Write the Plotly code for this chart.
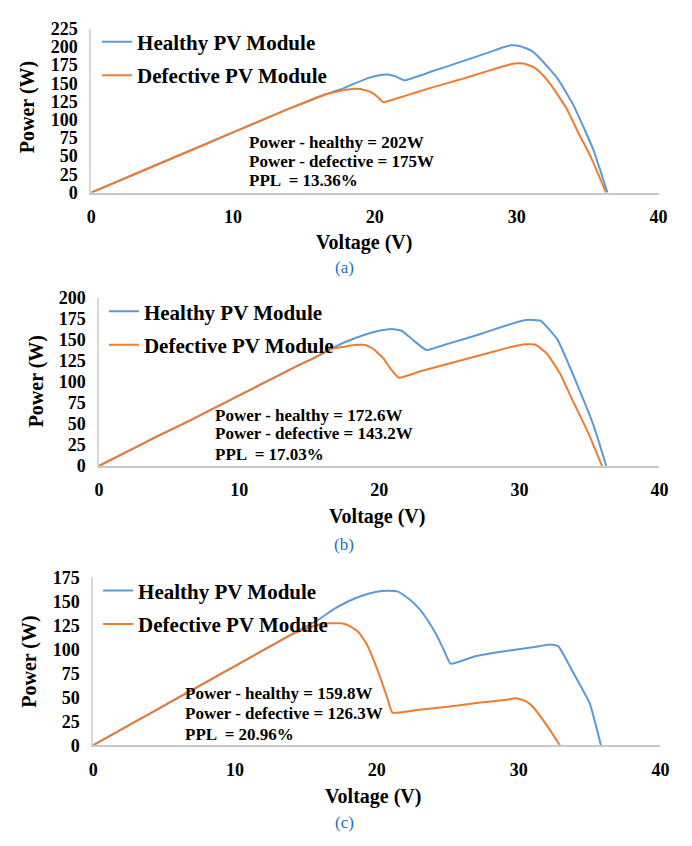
import plotly.graph_objects as go

# ---------------- data ----------------
# Panel (a)
va_h = [0, 2, 4, 6, 8, 10, 12, 14, 15.5, 16.5, 17.5, 18.5, 19.5, 20.3, 20.9, 21.5, 22.1,
        24, 26, 28, 29, 29.6, 30.2, 31, 31.7, 32.9, 34, 35.4, 36.4]
pa_h = [0, 16.5, 33, 49.5, 66, 82.5, 99, 115.5, 127, 134.5, 141, 149, 157, 161, 162, 159, 154,
        166, 179, 192, 199, 202, 201, 195, 183, 156, 120, 59, 0]
va_d = [0, 2, 4, 6, 8, 10, 12, 14, 15.5, 16.5, 17.4, 18.1, 19.0, 19.7, 20.2, 20.6, 22, 24, 26, 28,
        29.2, 29.8, 30.5, 31.2, 31.7, 32.4, 33.5, 34.4, 35.2, 36.3]
pa_d = [0, 16.5, 33, 49.5, 66, 82.5, 99, 115.5, 127, 134.5, 139, 141.5, 142, 138, 131, 124, 132, 144, 155, 167,
        174, 177, 177, 172, 164, 148, 116, 80, 50, 0]

# Panel (b)
vb_h = [0, 2, 4, 6, 8, 10, 12, 14, 15.5, 16.5, 17.5, 18.9, 20, 20.9, 21.6, 22.4, 23.0, 23.4,
        25, 27, 29, 30, 30.6, 31.5, 32.7, 34.3, 35.3, 36.2]
pb_h = [0, 17, 34, 50, 67, 84, 101, 118, 130, 139, 147, 156, 161, 163, 161, 150, 142, 138,
        146, 156, 167, 172, 174, 173, 151, 90, 48, 0]
vb_d = [0, 2, 4, 6, 8, 10, 12, 14, 15.5, 16.5, 17.5, 18.2, 19.0, 19.6, 20.3, 20.8, 21.4, 23, 25, 27, 29,
        30.4, 31.2, 32, 32.9, 33.8, 34.9, 35.9]
pb_d = [0, 17, 34, 50, 67, 84, 101, 118, 130, 139, 142, 144, 144, 139, 128, 116, 105, 113, 122, 131, 140,
        145, 144, 133, 110, 78, 40, 0]

# Panel (c)
vc_h = [0, 2, 4, 6, 8, 10, 12, 14, 15.9, 17, 18, 19, 20, 20.7, 21.5, 22.3, 23, 23.6, 24.2, 24.7, 25.2,
        27, 29, 31, 32.2, 32.8, 33.8, 35, 35.8]
pc_h = [0, 16.5, 33, 49.5, 66, 82.5, 99, 115.5, 131, 142, 150, 156, 160, 161, 160, 152, 142, 130, 115, 100, 85,
        93, 98, 102, 105, 103, 77, 44, 0]
vc_d = [0, 2, 4, 6, 8, 10, 12, 14, 15.5, 16.4, 17.5, 18.1, 18.7, 19.3, 19.8, 20.3, 20.7, 21.1,
        23, 25, 27, 29, 29.8, 30.5, 31, 32.2, 32.9]
pc_d = [0, 16.5, 33, 49.5, 66, 82.5, 99, 115.5, 124, 127, 127, 124, 118, 105, 88, 68, 51, 34,
        37, 40, 44, 47, 49, 46, 40, 16, 0]

x_ticks = [0, 10, 20, 30, 40]
y_ranges = [225, 200, 175]
names = ["Healthy PV Module", "Defective PV Module"]
notes = [
    ["Power - healthy = 202W", "Power - defective = 175W", "PPL  = 13.36%"],
    ["Power - healthy = 172.6W", "Power - defective = 143.2W", "PPL  = 17.03%"],
    ["Power - healthy = 159.8W", "Power - defective = 126.3W", "PPL  = 20.96%"],
]
captions = ["(a)", "(b)", "(c)"]

BLUE = "#5B9BD5"
ORANGE = "#ED7D31"
FONT = "Liberation Serif, Times New Roman, DejaVu Serif, serif"
W, H = 692, 846

panels = [
    (va_h, pa_h, va_d, pa_d),
    (vb_h, pb_h, vb_d, pb_d),
    (vc_h, pc_h, vc_d, pc_d),
]

# pixel layout of each panel: (left, right, top, bottom)
boxes = [(88, 667, 19, 187), (96, 668, 295, 467), (90, 669, 581, 753)]
legend_pos = [(94, 12), (101, 288), (95, 574)]
note_pos = [(247, [136, 155, 175]), (212, [415, 434, 455]), (182, [700, 721, 742])]
ytitle_pos = [(23, 100), (32, 380), (25, 667)]
xtitle_pos = [(366, 238), (380, 519), (376, 806)]
caption_pos = [(346, 264), (346, 547), (346, 832)]

fig = go.Figure()
annotations = []
for i, (vh, ph, vd, pd_) in enumerate(panels):
    n = "" if i == 0 else str(i + 1)
    leg = "legend" if i == 0 else f"legend{i + 1}"
    fig.add_trace(go.Scatter(x=vh, y=ph, mode="lines", name=names[0],
                             line=dict(color=BLUE, width=2, shape="spline", smoothing=0.4),
                             xaxis="x" + n, yaxis="y" + n,
                             legend=leg, legendgroup=f"h{i}"))
    fig.add_trace(go.Scatter(x=vd, y=pd_, mode="lines", name=names[1],
                             line=dict(color=ORANGE, width=2, shape="spline", smoothing=0.4),
                             xaxis="x" + n, yaxis="y" + n,
                             legend=leg, legendgroup=f"d{i}"))
    l, r, t, b = boxes[i]
    fig.layout["xaxis" + n] = dict(
        domain=[l / W, r / W], anchor="y" + n, range=[0, 40], tickvals=x_ticks,
        showgrid=False, zeroline=False, showline=True, linecolor="#C9C9C9", linewidth=1.5,
        ticks="", ticklabelstandoff=7,
        tickfont=dict(family=FONT, size=18, color="black", weight="bold"))
    fig.layout["yaxis" + n] = dict(
        domain=[1 - b / H, 1 - t / H], anchor="x" + n, range=[0, y_ranges[i]], dtick=25,
        showgrid=False, zeroline=False, showline=True, linecolor="#D9D9D9", linewidth=1.5,
        ticks="", ticklabelstandoff=8,
        tickfont=dict(family=FONT, size=18, color="black", weight="bold"))
    lx, ly = legend_pos[i]
    fig.layout[leg] = dict(
        x=lx / W, y=1 - ly / H, xanchor="left", yanchor="top", bgcolor="rgba(0,0,0,0)",
        traceorder="grouped", tracegroupgap=3, itemwidth=30,
        font=dict(family=FONT, size=21, color="black", weight="bold"))
    nx, nys = note_pos[i]
    for txt, ny in zip(notes[i], nys):
        annotations.append(dict(x=nx / W, y=1 - ny / H, xref="paper", yref="paper",
                                text=txt, showarrow=False, xanchor="left", yanchor="middle",
                                font=dict(family=FONT, size=17, color="black", weight="bold")))
    tx, ty = ytitle_pos[i]
    annotations.append(dict(x=tx / W, y=1 - ty / H, xref="paper", yref="paper",
                            text="Power (W)", textangle=-90, showarrow=False,
                            xanchor="center", yanchor="middle",
                            font=dict(family=FONT, size=20, color="black", weight="bold")))
    tx, ty = xtitle_pos[i]
    annotations.append(dict(x=tx / W, y=1 - ty / H, xref="paper", yref="paper",
                            text="Voltage (V)", showarrow=False,
                            xanchor="center", yanchor="middle",
                            font=dict(family=FONT, size=20, color="black", weight="bold")))
    cx, cy = caption_pos[i]
    annotations.append(dict(x=cx / W, y=1 - cy / H, xref="paper", yref="paper",
                            text=captions[i], showarrow=False,
                            xanchor="center", yanchor="middle",
                            font=dict(family=FONT, size=17, color="#1F6FC5")))

fig.update_layout(
    width=W, height=H, margin=dict(l=0, r=0, t=0, b=0),
    paper_bgcolor="white", plot_bgcolor="white",
    annotations=annotations, showlegend=True,
)
fig.write_html("out.html")
